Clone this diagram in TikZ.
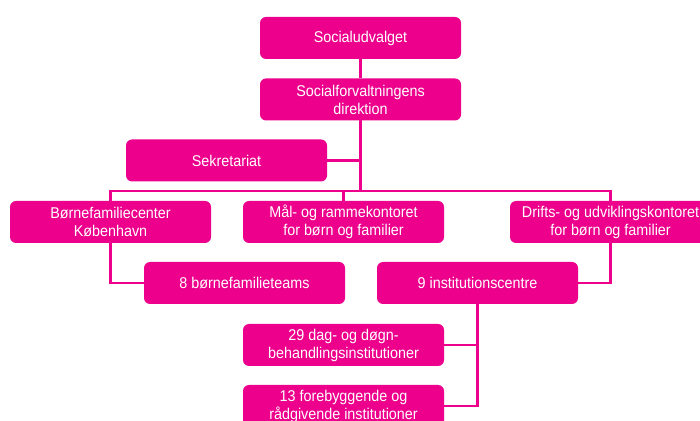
\documentclass[tikz,border=0pt]{standalone}
\usepackage{fontspec}
\setmainfont[FakeStretch=0.92]{Liberation Sans}
\definecolor{magenta}{RGB}{236,0,140}
\begin{document}
\begin{tikzpicture}[x=0.5pt,y=-0.5pt,line width=1.4pt,
	boks/.style={fill=magenta,rounded corners=3pt,minimum width=100.5pt,minimum height=21pt,
		align=center,text=white,font=\fontsize{7.8}{9}\selectfont,inner sep=1pt},
	linje/.style={draw=magenta,line cap=rect}]
			\useasboundingbox (0,0) rectangle (700,421);
			\clip (0,0) rectangle (700,421);
			\fill[white] (0,0) rectangle (700,421);
			\node[boks] (udv) at (360.5,38) {Socialudvalget};
			\node[boks] (dir) at (360.5,99.5) {Socialforvaltningens\\direktion};
			\node[boks] (sek) at (226.5,160.5) {Sekretariat};
			\node[boks] (bfc) at (110.5,222) {Børnefamiliecenter\\København};
			\node[boks] (maal) at (343.5,222) {Mål- og rammekontoret\\for børn og familier};
			\node[boks] (drift) at (610.5,222) {Drifts- og udviklingskontoret\\for børn og familier};
			\node[boks] (teams) at (244.5,283) {8 børnefamilieteams};
			\node[boks] (inst) at (477.5,283) {9 institutionscentre};
			\node[boks] (dag) at (343.5,345) {29 dag- og døgn-\\behandlingsinstitutioner};
			\node[boks] (fore) at (343.5,406) {13 forebyggende og\\rådgivende institutioner};
			\coordinate (hub) at (360.5,191);
			\draw[linje] (udv) -- (dir);
			\draw[linje] (dir) -- (hub);
			\draw[linje] (sek.east) -- (sek.east -| hub);
			\draw[linje] (bfc.north) |- (hub) -| (drift.north);
			\draw[linje] (maal.north) -- (maal.north |- hub);
			\draw[linje] (bfc.south) |- (teams.west);
			\draw[linje] (drift.south) |- (inst.east);
			\draw[linje] (inst.south) |- (dag.east);
			\draw[linje] (inst.south) |- (fore.east);
			\end{tikzpicture}
\end{document}
